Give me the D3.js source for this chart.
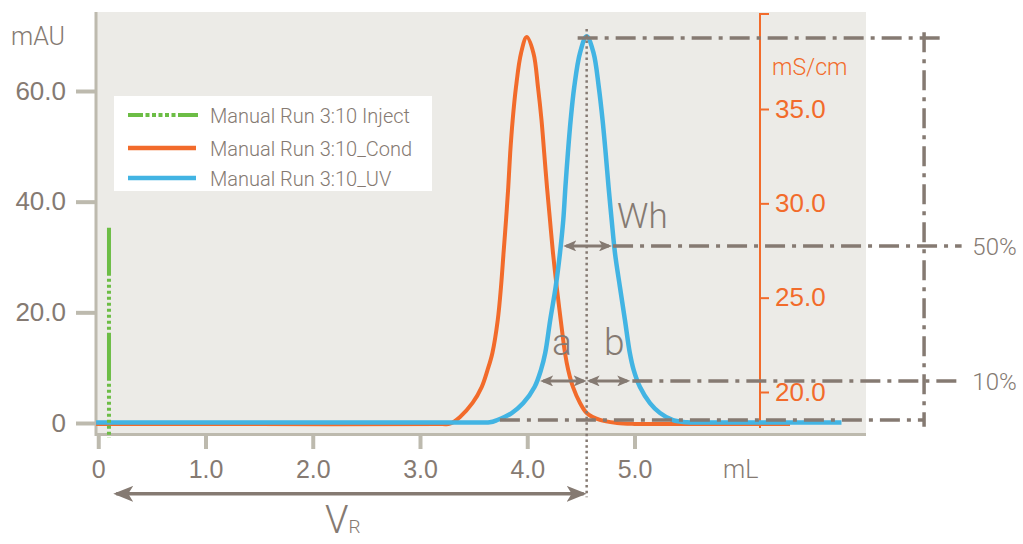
<!DOCTYPE html>
<html>
<head>
<meta charset="utf-8">
<script src="https://cdn.jsdelivr.net/npm/d3@7"></script>
<style>
  body { margin: 0; background: #fff; }
  svg { display: block; font-family: Roboto, "Liberation Sans", sans-serif; font-weight: 300; }
</style>
</head>
<body>
<svg id="chart" width="1023" height="544"></svg>
<script>
// UV trace (mL, mAU)
const uvCurve = [
  [-0.02, 0.1], [1.5, 0.1], [3.55, 0.1], [3.65, 0.12], [3.715, 0.5], [3.855, 1.8], [3.963, 3.6],
  [4.068, 6.5], [4.128, 9.6], [4.168, 12.7], [4.214, 18.6], [4.265, 24.6], [4.305, 30.7],
  [4.336, 36.7], [4.356, 42.7], [4.379, 48.8], [4.405, 54.8], [4.438, 60.7], [4.492, 66.9],
  [4.554, 69.9], [4.618, 66.9], [4.667, 60.7], [4.702, 54.8], [4.731, 48.8], [4.758, 42.7],
  [4.787, 36.7], [4.818, 30.7], [4.864, 24.6], [4.911, 18.6], [4.956, 12.7], [4.992, 9.6],
  [5.051, 6.5], [5.144, 3.6], [5.238, 1.8], [5.359, 0.5], [5.487, 0.12], [5.6, 0.1], [6.3, 0.1],
  [6.93, 0.1]
];
// conductivity trace (mL, mS/cm)
const condCurve = [
  [-0.02, 18.3], [1.5, 18.3], [3.2, 18.3], [3.28, 18.32], [3.373, 18.68], [3.49, 19.42],
  [3.575, 20.26], [3.63, 21.17], [3.675, 22.07], [3.725, 23.82], [3.755, 25.56], [3.779, 27.37],
  [3.802, 29.11], [3.823, 30.86], [3.841, 32.67], [3.864, 34.41], [3.895, 36.16], [3.942, 37.96],
  [3.995, 38.81], [4.058, 37.96], [4.100, 36.16], [4.133, 34.41], [4.158, 32.67], [4.184, 30.86],
  [4.212, 29.11], [4.240, 27.37], [4.275, 25.56], [4.312, 23.82], [4.352, 22.07], [4.382, 21.17],
  [4.427, 20.26], [4.492, 19.42], [4.554, 18.89], [4.678, 18.52], [4.837, 18.36], [5.0, 18.31],
  [5.2, 18.3], [6.0, 18.3], [6.45, 18.3]
];
// injection mark (mL, mAU)
const injectMark = [[0.1, 35.3], [0.1, -2.7]];

const xTicks = [0, 1, 2, 3, 4, 5];
const yTicks = [0, 20, 40, 60];
const y2Ticks = [20, 25, 30, 35];
const legendNames = ['Manual Run 3:10 Inject', 'Manual Run 3:10_Cond', 'Manual Run 3:10_UV'];

// annotation geometry in data units
const peakVol = 4.554;
const topLevel = 69.6, halfLevel = 32.0, tenthLevel = 7.6, baseLevel = 0.55;
const whSpan = [4.336, 4.79], aSpan = [4.12, peakVol], bSpan = [peakVol, 4.96];
const vrSpan = [0.14, peakVol];
const guideVol = 7.70;

const grey = '#857a72', axisGrey = '#bdbaae', orange = '#f26b2b', blue = '#42b4e3', green = '#6cbd45';

const svg = d3.select('#chart');
const x = d3.scaleLinear().domain([0, 5]).range([98.25, 634.5]);
const y = d3.scaleLinear().domain([0, 60]).range([423, 91]);
const y2 = d3.scaleLinear().domain([20, 35]).range([392, 109]);

// plot background
svg.append('rect').attr('x', 96).attr('y', 12).attr('width', 770).attr('height', 422).attr('fill', '#ecebe7');

// markers
const defs = svg.append('defs');
const mk = (id, len, half) => defs.append('marker')
  .attr('id', id).attr('markerUnits', 'userSpaceOnUse')
  .attr('viewBox', `0 ${-half} ${len} ${half * 2}`)
  .attr('refX', len - 3).attr('refY', 0)
  .attr('markerWidth', len).attr('markerHeight', half * 2)
  .attr('orient', 'auto-start-reverse')
  .append('path').attr('d', `M0,${-half}L${len},0L0,${half}L${len * 0.25},0Z`).attr('fill', grey);
mk('headBig', 20, 8);
mk('headSmall', 13, 5.5);

// left axis
const yAxis = svg.append('g').attr('transform', 'translate(95,0)')
  .call(d3.axisLeft(y).tickValues(yTicks).tickSize(19).tickPadding(10)
    .tickFormat(d => d === 0 ? '0' : d3.format('.1f')(d)));
yAxis.select('.domain').remove();
yAxis.selectAll('line').attr('stroke', axisGrey).attr('stroke-width', 4);
yAxis.selectAll('text').attr('fill', grey).attr('font-size', 26).attr('font-family', null);

// bottom axis
const xAxis = svg.append('g').attr('transform', 'translate(0,435)')
  .call(d3.axisBottom(x).tickValues(xTicks).tickSize(14).tickPadding(11)
    .tickFormat(d => d === 0 ? '0' : d3.format('.1f')(d)));
xAxis.select('.domain').remove();
xAxis.selectAll('line').attr('stroke', axisGrey).attr('stroke-width', 4);
xAxis.selectAll('text').attr('fill', grey).attr('font-size', 25).attr('font-family', null);

svg.append('path').attr('d', 'M96,12V436M96,434.5H866')
  .attr('fill', 'none').attr('stroke', axisGrey).attr('stroke-width', 3);

svg.append('text').attr('x', 11).attr('y', 45).attr('font-size', 25).attr('fill', grey).text('mAU');
svg.append('text').attr('x', 723).attr('y', 478).attr('font-size', 25).attr('fill', grey).text('mL');

// right axis (conductivity)
const y2Axis = svg.append('g').attr('transform', 'translate(760,0)')
  .call(d3.axisRight(y2).tickValues(y2Ticks).tickSize(9).tickPadding(6).tickFormat(d3.format('.1f')));
y2Axis.select('.domain').remove();
y2Axis.selectAll('line').attr('stroke', orange).attr('stroke-width', 2);
y2Axis.selectAll('text').attr('fill', orange).attr('font-size', 26).attr('font-family', null);
svg.append('path').attr('d', 'M769,14H760V428').attr('fill', 'none').attr('stroke', orange).attr('stroke-width', 2);
svg.append('text').attr('x', 772).attr('y', 75).attr('font-size', 23).attr('fill', orange).text('mS/cm');

// legend
const lg = svg.append('g');
lg.append('rect').attr('x', 114).attr('y', 96).attr('width', 318).attr('height', 95).attr('fill', '#fff');
const injDash = [15, 2.5].concat(d3.range(5).flatMap(() => [4, 2.5])).concat([23, 0]);
const legendY = [115, 148, 178];
lg.append('line').attr('x1', 128).attr('x2', 198).attr('y1', legendY[0]).attr('y2', legendY[0])
  .attr('stroke', green).attr('stroke-width', 4).attr('stroke-dasharray', injDash.join(','));
lg.append('line').attr('x1', 128).attr('x2', 196).attr('y1', legendY[1]).attr('y2', legendY[1])
  .attr('stroke', orange).attr('stroke-width', 4.5);
lg.append('line').attr('x1', 128).attr('x2', 196).attr('y1', legendY[2]).attr('y2', legendY[2])
  .attr('stroke', blue).attr('stroke-width', 4.5);
lg.selectAll('text.lbl').data(legendNames).join('text').attr('class', 'lbl')
  .attr('x', 210).attr('y', (d, i) => legendY[i] + 8).attr('font-size', 20).attr('fill', grey).text(d => d);

// traces
const line = (ys) => d3.line().x(d => x(d[0])).y(d => ys(d[1])).curve(d3.curveCatmullRom.alpha(0.5));
svg.append('path').datum(condCurve).attr('d', line(y2)).attr('fill', 'none')
  .attr('stroke', orange).attr('stroke-width', 4);
svg.append('path').datum(uvCurve).attr('d', line(y)).attr('fill', 'none')
  .attr('stroke', blue).attr('stroke-width', 4.5);
const injPattern = [48, 3].concat(d3.range(9).flatMap(() => [3, 3])).concat([0, 0]);
svg.append('path').datum(injectMark).attr('d', d3.line().x(d => x(d[0])).y(d => y(d[1])))
  .attr('stroke', green).attr('stroke-width', 4).attr('stroke-dasharray', injPattern.join(','));

// annotation guides
const dashDot = '20,7,4,7';
const guide = (x1, y1, x2, y2v) => svg.append('line')
  .attr('x1', x(x1)).attr('y1', y(y1)).attr('x2', x(x2)).attr('y2', y(y2v))
  .attr('stroke', grey).attr('stroke-width', 3.5).attr('stroke-dasharray', dashDot);
guide(4.47, topLevel, 7.85, topLevel);
guide(4.80, halfLevel, 8.05, halfLevel);
guide(4.98, tenthLevel, 8.01, tenthLevel);
guide(3.745, baseLevel, guideVol, baseLevel);
guide(guideVol, 70.6, guideVol, -0.7);

svg.append('line').attr('x1', x(peakVol)).attr('x2', x(peakVol)).attr('y1', y(71.2)).attr('y2', y(-13.4))
  .attr('stroke', grey).attr('stroke-width', 2.5).attr('stroke-dasharray', '2.5,3.2');

// arrows
const arrow = (span, level, head, w) => svg.append('line')
  .attr('x1', x(span[0]) + 3).attr('x2', x(span[1]) - 3).attr('y1', y(level)).attr('y2', y(level))
  .attr('stroke', grey).attr('stroke-width', w)
  .attr('marker-start', `url(#${head})`).attr('marker-end', `url(#${head})`);
arrow(whSpan, halfLevel, 'headSmall', 3);
arrow(aSpan, tenthLevel, 'headSmall', 3);
arrow(bSpan, tenthLevel, 'headSmall', 3);
arrow(vrSpan, -12.8, 'headBig', 3.5);

// annotation text
const note = (t, vx, vy, size) => svg.append('text').attr('x', x(vx)).attr('y', y(vy))
  .attr('font-size', size).attr('fill', grey).text(t);
note('Wh', 4.837, 35.2, 35);
note('a', 4.23, 12.3, 37);
note('b', 4.715, 12.3, 37);
note('50%', 8.15, halfLevel - 1.6, 24);
note('10%', 8.15, tenthLevel - 1.6, 24);
const vr = note('V', 2.114, -19.9, 38);
vr.append('tspan').attr('font-size', 19).text('R');
</script>
</body>
</html>
